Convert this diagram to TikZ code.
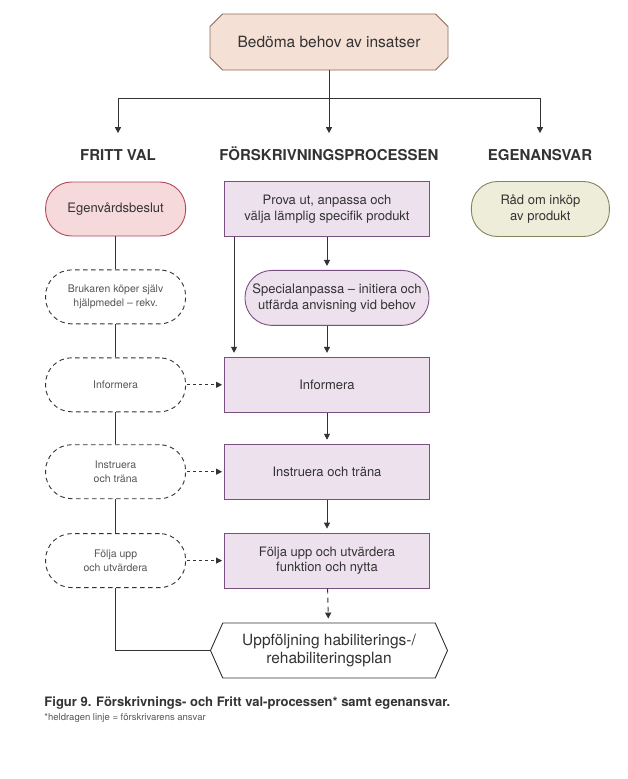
\documentclass[tikz,border=0pt]{standalone}
\usepackage{fontspec}
\setmainfont{TeX Gyre Heros}
\usetikzlibrary{positioning,shapes.misc,shapes.symbols,arrows.meta}

\definecolor{peachfill}{HTML}{F5E0D5}
\definecolor{peachline}{HTML}{8C6A5B}
\definecolor{rosefill}{HTML}{F6DADB}
\definecolor{roseline}{HTML}{B0475A}
\definecolor{lilacfill}{HTML}{ECE1ED}
\definecolor{lilacline}{HTML}{7A4F82}
\definecolor{olivefill}{HTML}{EDEDDA}
\definecolor{oliveline}{HTML}{84835C}
\definecolor{ink}{HTML}{333333}
\definecolor{softink}{HTML}{555555}

\tikzset{
  arr/.style = {-{Triangle[length=6pt, width=6pt]}, shorten >= 4pt},
  dasharr/.style = {arr, dashed, shorten <= 1pt, shorten >= 2pt},
  heading/.style = {font=\fontsize{15}{17}\selectfont\bfseries, text=ink,
    inner xsep=0pt, inner ysep=16pt, text height=10.8pt, text depth=0pt},
  stepbox/.style = {draw=lilacline, fill=lilacfill, line width=0.9pt,
    minimum width=205pt, minimum height=55pt, align=center,
    font=\fontsize{13}{15.5}\selectfont, text=ink},
  pill/.style = {rectangle, rounded corners=26pt, line width=0.9pt,
    minimum width=140pt, minimum height=54pt, align=center,
    font=\fontsize{13}{15.5}\selectfont, text=ink},
  freepill/.style = {pill, draw=ink, dash pattern=on 4.5pt off 3.5pt, fill=white,
    font=\fontsize{10.5}{14.5}\selectfont, text=softink},
}

\begin{document}
\begin{tikzpicture}[x=1pt, y=-1pt, line width=0.9pt, draw=ink, color=ink]
    \useasboundingbox (0,0) rectangle (627,779);

    \node[chamfered rectangle, chamfered rectangle xsep=11pt,
      draw=peachline, fill=peachfill, minimum width=238pt, minimum height=56pt,
      font=\fontsize{15.5}{18}\selectfont, text=ink] (behov) at (329,42) {Bedöma behov av insatser};
    \coordinate (split) at (329,98);

    \node[heading] (fritt) at (118,155) {FRITT VAL};
    \node[heading] (forskr) at (329,155) {FÖRSKRIVNINGSPROCESSEN};
    \node[heading] (egen) at (540,155) {EGENANSVAR};

    % förskrivningsprocessen
    \node[stepbox] (prova) at (327,209) {Prova ut, anpassa och\\välja lämplig specifik produkt};
    \node[pill, draw=lilacline, fill=lilacfill, minimum width=184pt, minimum height=55pt,
      rounded corners=27pt, below = 33pt of prova, xshift=10pt] (special)
      {Specialanpassa – initiera och\\utfärda anvisning vid behov};
    \node[stepbox, below = 31pt of special, xshift=-10pt] (infoM) {Informera};
    \node[stepbox, below = 31pt of infoM] (instrM) {Instruera och träna};
    \node[stepbox, below = 33pt of instrM] (foljaM) {Följa upp och utvärdera\\funktion och nytta};
    \node[signal, signal to=west and east, signal pointer angle=132, draw=ink, fill=white,
      minimum width=237pt, minimum height=55pt, align=center, inner xsep=0pt,
      font=\fontsize{15.5}{17.5}\selectfont, text=ink,
      below = 34pt of foljaM, xshift=2pt] (uppf)
      {Uppföljning habiliterings-/\\rehabiliteringsplan};

    % fritt val
    \node[pill, draw=roseline, fill=rosefill, left = 38pt of prova] (egenvard) {Egenvårdsbeslut};
    \node[freepill, below = 33pt of egenvard] (brukaren) {Brukaren köper själv\\hjälpmedel – rekv.};
    \node[freepill, left = 38pt of infoM] (infoL) {Informera};
    \node[freepill, left = 38pt of instrM] (instrL) {Instruera\\och träna};
    \node[freepill, left = 38pt of foljaM] (foljaL) {Följa upp\\och utvärdera};

    % egenansvar
    \node[pill, draw=oliveline, fill=olivefill, minimum width=138pt, minimum height=55pt,
      right = 41pt of prova] (rad) {Råd om inköp\\av produkt};

    \draw (behov) -- (split);
    \draw (split -| fritt) -- (split -| egen);
    \draw[arr, shorten >= 0pt] (split -| fritt) -- (fritt.north);
    \draw[arr, shorten >= 0pt] (split) -- (forskr.north);
    \draw[arr, shorten >= 0pt] (split -| egen) -- (egen.north);

    \draw[arr] (prova.south) -- (prova.south |- special.north);
    \draw[arr] ([xshift=10pt]prova.south west) -- ([xshift=10pt]infoM.north west);
    \draw[arr] (infoM.north |- special.south) -- (infoM.north);
    \draw[arr] (infoM) -- (instrM);
    \draw[arr] (instrM) -- (foljaM);
    \draw[arr, dash pattern=on 5pt off 4pt] (foljaM) -- (uppf);

    \draw (egenvard) -- (brukaren) -- (infoL) -- (instrL) -- (foljaL);
    \draw (foljaL.south) |- (uppf.west);

    \draw[dasharr] (infoL) -- (infoM);
    \draw[dasharr] (instrL) -- (instrM);
    \draw[dasharr] (foljaL) -- (foljaM);

    \node[anchor=base west, inner sep=0pt, font=\fontsize{13}{15}\selectfont\bfseries, text=ink]
      (caption) at (44,706) {Figur 9. Förskrivnings- och Fritt val-processen* samt egenansvar.};
    \node[anchor=base west, inner sep=0pt, font=\fontsize{9.5}{11}\selectfont, text=softink]
      (note) at (44,720) {*heldragen linje = förskrivarens ansvar};
\end{tikzpicture}
\end{document}
